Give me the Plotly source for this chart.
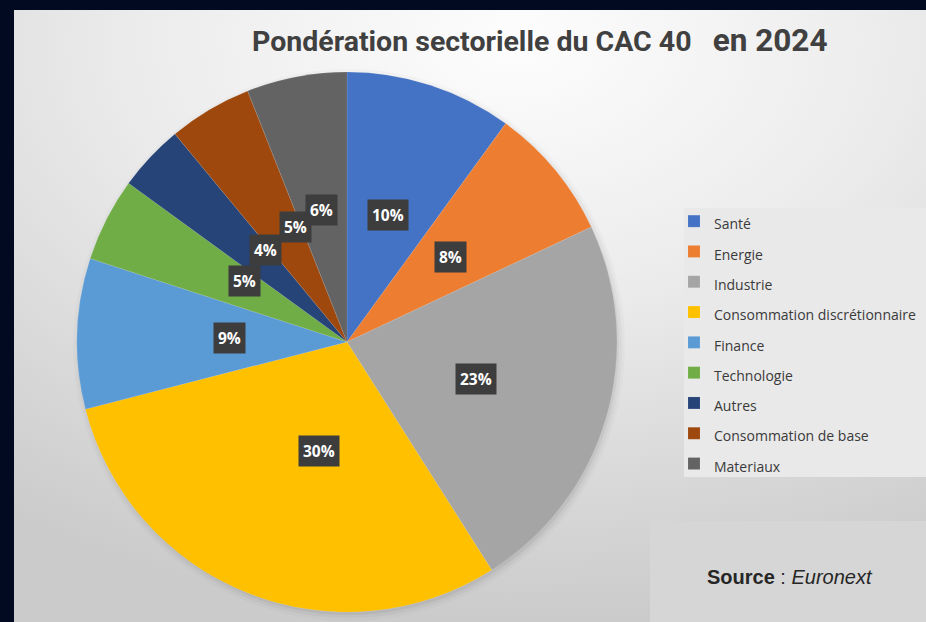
import base64
import math
import plotly.graph_objects as go

# ---- data ----
categories = ["Santé", "Energie", "Industrie", "Consommation discrétionnaire",
              "Finance", "Technologie", "Autres", "Consommation de base", "Materiaux"]
weights = [10, 8, 23, 30, 9, 5, 4, 5, 6]
colors = ["#4472C4", "#ED7D31", "#A5A5A5", "#FFC000", "#5B9BD5",
          "#70AD47", "#264478", "#9E480E", "#636363"]
title_main = "Pondération sectorielle du CAC 40"
title_year = "en 2024"
source_text = "<b>Source</b> : <i>Euronext</i>"

W, H = 926, 622
CX, CY, R = 347, 342, 268  # pie centre / radius in px

fig = go.Figure()

labels = [f'<span style="font-size:14px">{c}</span>' for c in categories]
fig.add_trace(go.Pie(
    labels=labels, values=weights, sort=False, direction="clockwise", rotation=0,
    marker=dict(colors=colors, line=dict(color="rgba(255,255,255,0.2)", width=0.5)),
    textinfo="none", hoverinfo="label+percent",
    domain=dict(x=[(CX - R - 2) / W, (CX + R + 2) / W],
                y=[(H - CY - R - 2) / H, (H - CY + R + 2) / H]),
))

# percentage labels, placed at mid-angle of each slice, half radius
total = sum(weights)
cum = 0
for v in weights:
    mid = (cum + v / 2) / total * 2 * math.pi
    cum += v
    px = CX + 0.5 * R * math.sin(mid)
    py = CY - 0.5 * R * math.cos(mid)
    fig.add_annotation(x=px / W, y=1 - py / H, xref="paper", yref="paper",
                       text=f"<b>{round(v / total * 100)}%</b>", showarrow=False,
                       font=dict(family="Open Sans", size=15.5, color="white"),
                       bgcolor="#3d3d3d", borderpad=4)

# background panel (gradient) as an svg image
svg = '''<svg xmlns="http://www.w3.org/2000/svg" width="912" height="612" viewBox="0 0 912 612" preserveAspectRatio="none">
<defs><radialGradient id="g" cx="55%" cy="5%" r="95%" fx="55%" fy="5%">
<stop offset="0" stop-color="#fdfdfd"/><stop offset="0.45" stop-color="#ebebeb"/><stop offset="1" stop-color="#cbcbcb"/>
</radialGradient></defs><rect width="912" height="612" fill="url(#g)"/></svg>'''
src = "data:image/svg+xml;base64," + base64.b64encode(svg.encode()).decode()
fig.add_layout_image(source=src, xref="paper", yref="paper", x=14 / W, y=1 - 10 / H,
                     sizex=1 - 14 / W, sizey=1 - 10 / H, sizing="stretch",
                     xanchor="left", yanchor="top", layer="below")

shapes = []
# pie soft shadow
for d, a in [(8, 0.02), (5, 0.03), (2, 0.05)]:
    shapes.append(dict(type="circle", xref="paper", yref="paper",
                       x0=(CX - R - d + 2) / W, x1=(CX + R + d + 2) / W,
                       y0=1 - (CY + R + d + 3) / H, y1=1 - (CY - R - d + 3) / H,
                       fillcolor=f"rgba(0,0,0,{a})", line=dict(width=0), layer="below"))
# legend panel
shapes.append(dict(type="rect", xref="paper", yref="paper", x0=684 / W, x1=1,
                   y0=1 - 477 / H, y1=1 - 208 / H, fillcolor="#e9e9e9",
                   line=dict(width=0), layer="below"))
# source panel
shapes.append(dict(type="rect", xref="paper", yref="paper", x0=650 / W, x1=1,
                   y0=0, y1=1 - 521 / H, fillcolor="#d6d6d6",
                   line=dict(width=0), layer="below"))
fig.update_layout(shapes=shapes)

fig.add_annotation(x=540 / W, y=1 - 40 / H, xref="paper", yref="paper", showarrow=False,
                   text=f'<b>{title_main}</b>&nbsp;&nbsp;&nbsp;<b><span style="font-size:31.5px">{title_year}</span></b>',
                   font=dict(family="Roboto", size=28.5, color="#404040"),
                   xanchor="center", yanchor="middle")
fig.add_annotation(x=790 / W, y=1 - 577 / H, xref="paper", yref="paper", showarrow=False,
                   text=source_text, font=dict(family="Liberation Sans", size=20, color="#262626"),
                   xanchor="center", yanchor="middle")

fig.update_layout(
    width=W, height=H, margin=dict(l=0, r=0, t=0, b=0),
    paper_bgcolor="#020a22", plot_bgcolor="rgba(0,0,0,0)",
    showlegend=True,
    legend=dict(x=674 / W, y=1 - 201 / H, xanchor="left", yanchor="top",
                bgcolor="rgba(0,0,0,0)", font=dict(family="Open Sans", size=21, color="#3a3a3a"),
                itemclick=False, itemdoubleclick=False),
)

fig.write_html("out.html", config={"displayModeBar": False},
               post_script="document.body.style.margin='0';")
